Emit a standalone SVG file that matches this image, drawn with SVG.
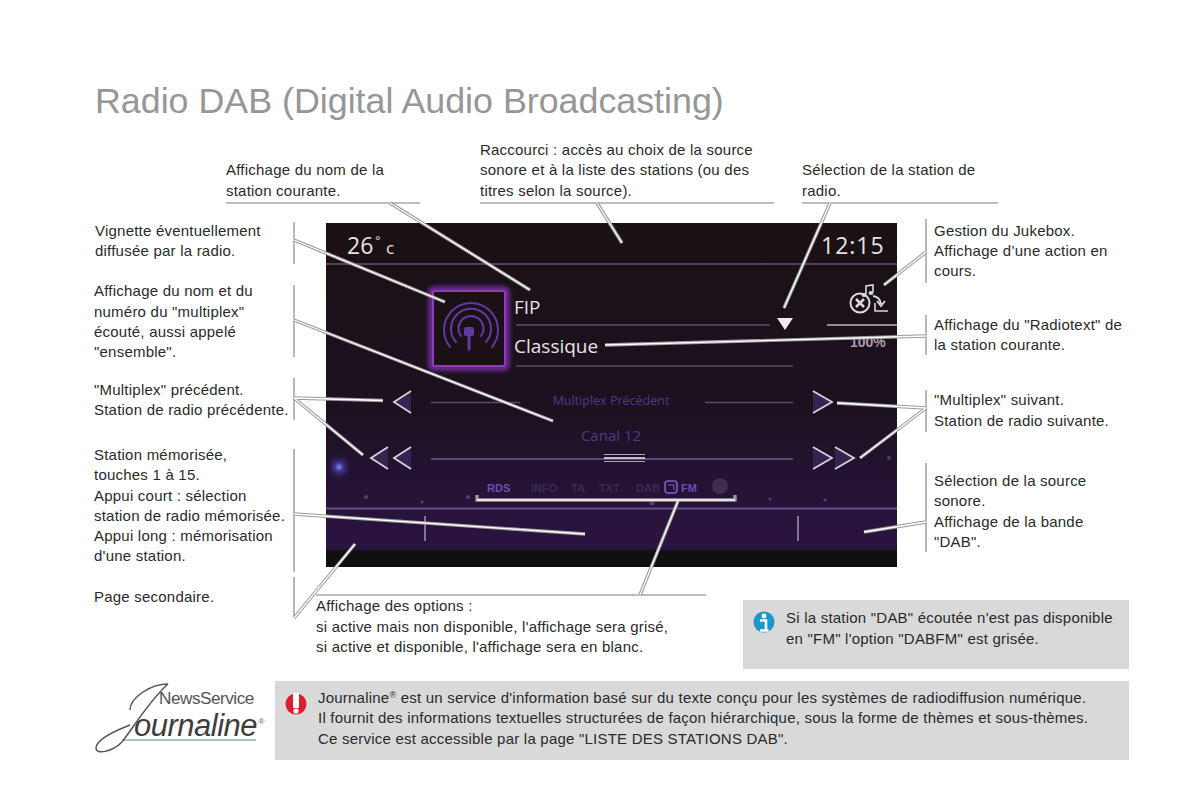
<svg xmlns="http://www.w3.org/2000/svg" width="1200" height="800" viewBox="0 0 1200 800">
<style>
text{font-family:"Liberation Sans",Arial,sans-serif}
.t{font-size:15px;fill:#2a2a2a;letter-spacing:.22px}
.title{font-size:35.8px;fill:#969696}
.sep{stroke:#a9a9a9;stroke-width:1.6;fill:none}
.o{stroke:#9a9a9a;stroke-width:3.4;fill:none}
.i{stroke:#fff;stroke-width:1.3;fill:none}
.pl{stroke:#5d4a66;stroke-width:1.6;fill:none}
.arrow{fill:#33254f;stroke:#d8cfdc;stroke-width:1.8}
.st{fill:#7a5a9a;opacity:.6}
text.os{font-family:"Open Sans","Liberation Sans",sans-serif}
</style>
<defs>
<linearGradient id="bg" x1="0" y1="0" x2="0" y2="1">
<stop offset="0" stop-color="#1a1114"/><stop offset="0.55" stop-color="#1c1120"/><stop offset="0.8" stop-color="#261338"/><stop offset="0.945" stop-color="#2b1342"/><stop offset="0.955" stop-color="#111010"/><stop offset="1" stop-color="#100e0e"/>
</linearGradient>
<radialGradient id="star"><stop offset="0" stop-color="#8d8df0"/><stop offset="0.3" stop-color="#3d3a9a"/><stop offset="1" stop-color="#2a1540" stop-opacity="0"/></radialGradient>
<filter id="glow" x="-20%" y="-20%" width="140%" height="140%"><feGaussianBlur stdDeviation="2"/></filter>
<g id="lt"><path class="arrow" d="M0 0L-17 11L0 22"/></g>
<g id="rt"><path class="arrow" d="M0 0L19 11L0 22"/></g>
</defs>
<text class="title" x="95" y="113">Radio DAB (Digital Audio Broadcasting)</text>
<g id="screen">
<rect x="326" y="223" width="571" height="344" fill="url(#bg)"/>
<circle cx="339" cy="467" r="13" fill="url(#star)"/>
<circle class="st" cx="366" cy="497" r="2"/><circle class="st" cx="422" cy="502" r="1.500"/><circle class="st" cx="468" cy="497" r="2"/><circle class="st" cx="652" cy="503" r="2.500"/><circle class="st" cx="770" cy="499" r="1.500"/><circle class="st" cx="825" cy="500" r="1.500"/><circle class="st" cx="889" cy="458" r="2"/>
<path d="M326 264H897" stroke="#54405f" stroke-width="2"/>
<path d="M326 508.500H897" stroke="#6a4f86" stroke-width="2"/>
<text class="os" x="347" y="254" font-size="23" fill="#e6e2e4">26</text>
<text x="375" y="246" font-size="14" fill="#e6e2e4">°</text>
<text class="os" x="386" y="254" font-size="17" fill="#e6e2e4">c</text>
<text class="os" x="821" y="254" font-size="23" fill="#e6e2e4" letter-spacing="1">12:15</text>
<text class="os" x="514" y="314" font-size="19" fill="#e6e2e4">FIP</text>
<text class="os" x="514" y="353" font-size="19" fill="#e6e2e4">Classique</text>
<path class="pl" d="M516 325H770M516 366H793"/>
<path d="M827 325H897" stroke="#bdb6c0" stroke-width="1.600"/>
<text x="850" y="347" font-size="14" fill="#a89cae" font-weight="bold">100%</text>
<path d="M777 318H793L785 330Z" fill="#eee8f2"/>
<text class="os" x="611" y="405" font-size="12.500" fill="#4d3a8a" text-anchor="middle">Multiplex Précédent</text>
<text class="os" x="611" y="441" font-size="15" fill="#4d3a8a" text-anchor="middle">Canal 12</text>
<path class="pl" d="M431 402.500H520M705 402.500H793"/>
<path d="M431 459H793" stroke="#5b4a82" stroke-width="2"/>
<use href="#lt" x="411" y="391"/>
<use href="#lt" x="411" y="447"/>
<use href="#lt" x="388" y="447"/>
<use href="#rt" x="813" y="391"/>
<use href="#rt" x="813" y="447"/>
<use href="#rt" x="835" y="447"/>
<text x="487" y="492" font-size="11" font-weight="bold" fill="#6a4fb0">RDS</text>
<g font-size="11" font-weight="bold" fill="#3a2a5a"><text x="531" y="492">INFO</text><text x="571" y="492">TA</text><text x="599" y="492">TXT</text><text x="636" y="492">DAB</text></g>
<rect x="665" y="481" width="12" height="12" rx="3" fill="none" stroke="#7a5fc0" stroke-width="1.600"/>
<path d="M668 485H674V490" fill="none" stroke="#7a5fc0" stroke-width="1"/>
<text x="681" y="492" font-size="11" font-weight="bold" fill="#6a4fb0">FM</text>
<circle cx="720" cy="486" r="8" fill="#3f2c50"/>
<path d="M425 516V541M798 516V541" stroke="#9b8ea6" stroke-width="1.600"/>
</g>
<g id="vignette">
<rect x="431" y="289" width="76" height="79" rx="3" fill="none" stroke="#7a2fa8" stroke-width="5" filter="url(#glow)"/>
<rect x="433" y="291" width="72" height="75" rx="2" fill="#1b1016" stroke="#8a3fb8" stroke-width="2"/>
<g fill="none" stroke="#5f3aa0" stroke-width="2" stroke-linecap="round">
<path d="M450 347A27 27 0 1 1 492 347"/>
<path d="M456 342A20 20 0 1 1 486 342"/>
<path d="M461 336A12.500 12.500 0 1 1 481 336"/>
<path d="M469 330V349" stroke-width="3"/>
</g>
<rect x="464" y="327" width="10" height="9" rx="2" fill="#5f3aa0"/>
</g>
<g id="jukebox" fill="none" stroke="#dcd8dc" stroke-width="2">
<circle cx="860" cy="303" r="9.500"/>
<path d="M856 299L864 307M864 299L856 307" stroke-width="2.500"/>
<path d="M866 294V286L873 285V292" stroke-width="1.600"/>
<ellipse cx="864" cy="295" rx="2.500" ry="2" fill="#dcd8dc" stroke="none"/>
<ellipse cx="871" cy="293" rx="2.500" ry="2" fill="#dcd8dc" stroke="none"/>
<path d="M873 296Q880 297 881 304M877 301L881 306L885 301" stroke-width="1.800"/>
<path d="M875 303V311H888" stroke-width="1.600"/>
</g>
<g id="separators">
<path class="sep" d="M226 203H420M480 203H774M802 203H998"/>
<path class="sep" d="M294 222V264M294 285V357M294 378V420M294 449V572M294 577V618"/>
<path class="sep" d="M926 219V283M926 315V355M926 390V432M926 463V552"/>
<path class="sep" d="M316 595H706"/>
</g>
<g id="connectors">
<path class="o" d="M390 203L530 290M597 203L622 243M830 203L784 308M294 240L445 302M294 320L553 421M294 398L383 400.500M294 398L363 455M294 514L585 534M294 618L355 544M926 252L884 285M926 336L605 345M926 408L837 403M926 408L860 458M926 522L864 532M640 595L678 501M477 495V500H735V495"/>
<path class="i" d="M390 203L530 290M597 203L622 243M830 203L784 308M294 240L445 302M294 320L553 421M294 398L383 400.500M294 398L363 455M294 514L585 534M294 618L355 544M926 252L884 285M926 336L605 345M926 408L837 403M926 408L860 458M926 522L864 532M640 595L678 501M477 500H735"/>
<path d="M604 458H645" stroke="#eee" stroke-width="1.500"/>
<path d="M604 454.500H645M604 461.500H645" stroke="#aaa" stroke-width="1"/>
</g>
<g id="labels">
<g class="t">
<text x="226" y="175">Affichage du nom de la</text><text x="226" y="196">station courante.</text>
<text x="480" y="155">Raccourci : accès au choix de la source</text><text x="480" y="175">sonore et à la liste des stations (ou des</text><text x="480" y="196">titres selon la source).</text>
<text x="802" y="175">Sélection de la station de</text><text x="802" y="196">radio.</text>
<text x="95" y="236">Vignette éventuellement</text><text x="95" y="256">diffusée par la radio.</text>
<text x="94" y="296">Affichage du nom et du</text><text x="94" y="317">numéro du "multiplex"</text><text x="94" y="337">écouté, aussi appelé</text><text x="94" y="357">"ensemble".</text>
<text x="94" y="395">"Multiplex" précédent.</text><text x="94" y="415">Station de radio précédente.</text>
<text x="94" y="460">Station mémorisée,</text><text x="94" y="480">touches 1 à 15.</text><text x="94" y="501">Appui court : sélection</text><text x="94" y="521">station de radio mémorisée.</text><text x="94" y="541">Appui long : mémorisation</text><text x="94" y="561">d'une station.</text>
<text x="94" y="602">Page secondaire.</text>
<text x="934" y="236">Gestion du Jukebox.</text><text x="934" y="256">Affichage d’une action en</text><text x="934" y="276">cours.</text>
<text x="934" y="330">Affichage du "Radiotext" de</text><text x="934" y="350">la station courante.</text>
<text x="934" y="405">"Multiplex" suivant.</text><text x="934" y="426">Station de radio suivante.</text>
<text x="934" y="486">Sélection de la source</text><text x="934" y="506">sonore.</text><text x="934" y="527">Affichage de la bande</text><text x="934" y="547">"DAB".</text>
<text x="316" y="611">Affichage des options :</text><text x="316" y="632">si active mais non disponible, l'affichage sera grisé,</text><text x="316" y="652">si active et disponible, l'affichage sera en blanc.</text>
</g>
</g>
<g id="note-info">
<rect x="743" y="600" width="386" height="69" fill="#d9d9d9"/>
<circle cx="764" cy="622" r="10.500" fill="#1d96c8"/>
<circle cx="764" cy="616" r="2.400" fill="#fff"/>
<path d="M760 620.500H766V630M760 630.500H768.500" fill="none" stroke="#fff" stroke-width="2.600"/>
<text class="t" x="786" y="623">Si la station "DAB" écoutée n'est pas disponible</text>
<text class="t" x="786" y="644">en "FM" l'option "DABFM" est grisée.</text>
</g>
<g id="note-warning">
<rect x="275" y="681" width="854" height="79" fill="#d9d9d9"/>
<circle cx="296" cy="704" r="10.500" fill="#d9202e"/>
<rect x="293" y="693" width="6" height="15" fill="#fff"/>
<circle cx="296" cy="711" r="2.600" fill="#fff"/>
<text class="t" x="318" y="703">Journaline<tspan font-size="9" dy="-5">®</tspan><tspan dy="5"> est un service d'information basé sur du texte conçu pour les systèmes de radiodiffusion numérique.</tspan></text>
<text class="t" x="318" y="723">Il fournit des informations textuelles structurées de façon hiérarchique, sous la forme de thèmes et sous-thèmes.</text>
<text class="t" x="318" y="744">Ce service est accessible par la page "LISTE DES STATIONS DAB".</text>
</g>
<g id="logo">
<text x="159" y="704" font-size="17.200" fill="#555" letter-spacing="-0.500">NewsService</text>
<text x="134" y="736" font-size="31" font-style="italic" fill="#3d3d3d" letter-spacing="-0.500">ournaline</text>
<text x="258.500" y="724" font-size="8" fill="#666">®</text>
<path d="M122 740H256" stroke="#7fb5ab" stroke-width="1.600"/>
<path d="M168 684C150 684 130 698 130 710M168 684C150 700 135 725 122 742C112 752 96 755 96 748C96 740 112 732 130 725" fill="none" stroke="#555" stroke-width="1.500"/>
</g>
</svg>
